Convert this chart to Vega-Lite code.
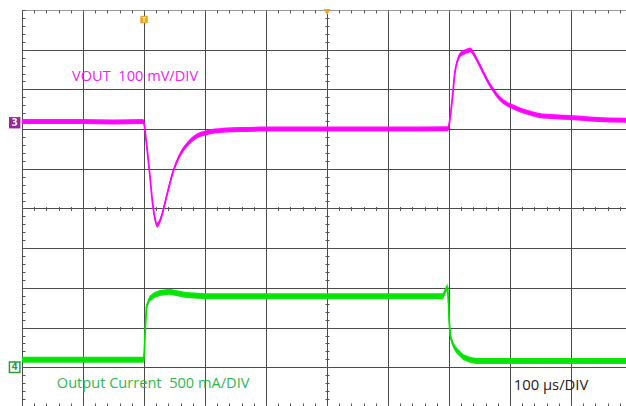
{
  "$schema": "https://vega.github.io/schema/vega-lite/v6.json",
  "width": 604,
  "height": 396,
  "autosize": {"type": "none"},
  "padding": {"left": 22, "top": 10, "right": 0, "bottom": 0},
  "background": "white",
  "config": {
    "view": {"stroke": null},
    "axis": {"labels": false, "title": null, "domain": false, "ticks": false, "grid": false, "tickColor": "#555", "gridColor": "#4a4a4a", "gridOpacity": 1, "tickWidth": 1, "gridWidth": 1}
  },
  "datasets": {
    "vout": [
      {"t": -500, "v": 2.19}, {"t": -400, "v": 2.19}, {"t": -350, "v": 2.18}, {"t": -302, "v": 2.19},
      {"t": -300.5, "v": 2.17}, {"t": -296, "v": 1.64}, {"t": -290.7, "v": 0.88}, {"t": -285.2, "v": 0.04},
      {"t": -281.6, "v": -0.29}, {"t": -278.7, "v": -0.42}, {"t": -275, "v": -0.35}, {"t": -271.5, "v": -0.21},
      {"t": -263.3, "v": 0.29}, {"t": -252.5, "v": 0.92}, {"t": -241.5, "v": 1.34}, {"t": -227.9, "v": 1.64},
      {"t": -214.1, "v": 1.82}, {"t": -197.7, "v": 1.91}, {"t": -170.5, "v": 1.97}, {"t": -143.1, "v": 1.99},
      {"t": -100, "v": 2.0}, {"t": 0, "v": 2.0}, {"t": 100, "v": 2.0}, {"t": 198.4, "v": 2.01},
      {"t": 201.1, "v": 2.22}, {"t": 205.6, "v": 2.81}, {"t": 209.3, "v": 3.4}, {"t": 213.1, "v": 3.69},
      {"t": 217.5, "v": 3.86}, {"t": 225.7, "v": 3.94}, {"t": 235.1, "v": 3.99}, {"t": 239.3, "v": 3.92},
      {"t": 247.5, "v": 3.69}, {"t": 255.7, "v": 3.44}, {"t": 263.9, "v": 3.19}, {"t": 272.1, "v": 2.99},
      {"t": 283.1, "v": 2.77}, {"t": 294.1, "v": 2.64}, {"t": 310.5, "v": 2.52}, {"t": 326.9, "v": 2.43},
      {"t": 345.9, "v": 2.35}, {"t": 374.9, "v": 2.31}, {"t": 397.9, "v": 2.29}, {"t": 436.1, "v": 2.25},
      {"t": 490, "v": 2.22}
    ],
    "current": [
      {"t": -500, "v": -3.81}, {"t": -400, "v": -3.81}, {"t": -300.5, "v": -3.81}, {"t": -299.5, "v": -3.6},
      {"t": -298, "v": -3.07}, {"t": -296, "v": -2.48}, {"t": -290.7, "v": -2.27}, {"t": -282.5, "v": -2.18},
      {"t": -274.3, "v": -2.13}, {"t": -257.9, "v": -2.1}, {"t": -241.5, "v": -2.15}, {"t": -230.5, "v": -2.18},
      {"t": -200, "v": -2.21}, {"t": 0, "v": -2.21}, {"t": 190, "v": -2.21}, {"t": 197.4, "v": -1.96},
      {"t": 199.5, "v": -2.48}, {"t": 200, "v": -2.81}, {"t": 202, "v": -3.19}, {"t": 204, "v": -3.32},
      {"t": 207.7, "v": -3.47}, {"t": 212.1, "v": -3.57}, {"t": 223, "v": -3.74}, {"t": 234, "v": -3.81},
      {"t": 244.9, "v": -3.84}, {"t": 490, "v": -3.84}
    ]
  },
  "resolve": {"axis": {"x": "independent", "y": "independent"}},
  "layer": [
    {
      "data": {"name": "vout"},
      "mark": {"type": "line", "color": "#ff00ff", "strokeWidth": 1.8, "interpolate": "monotone"},
      "encoding": {
        "x": {"field": "t", "type": "quantitative", "scale": {"domain": [-500, 490], "nice": false, "zero": false},
              "axis": {"grid": true, "values": [-500, -400, -300, -200, -100, 0, 100, 200, 300, 400]}},
        "y": {"field": "v", "type": "quantitative", "scale": {"domain": [-4.975, 5], "nice": false, "zero": false},
              "axis": {"grid": true, "values": [-4, -3, -2, -1, 0, 1, 2, 3, 4, 5],
                       "gridColor": {"condition": {"test": "datum.value === 5", "value": "#999"}, "value": "#4a4a4a"}}}
      }
    },
    {
      "data": {"name": "vout"},
      "mark": {"type": "area", "color": "#ff00ff", "yOffset": -2.5, "y2Offset": 2.5, "opacity": 0.95, "interpolate": "monotone"},
      "encoding": {
        "x": {"field": "t", "type": "quantitative",
              "axis": {"orient": "top", "offset": -3, "ticks": true, "tickSize": 3, "tickCount": 50}},
        "y": {"field": "v", "type": "quantitative",
              "axis": {"orient": "left", "offset": -3, "ticks": true, "tickSize": 3, "tickCount": 50}},
        "y2": {"field": "v"}
      }
    },
    {
      "data": {"name": "current"},
      "mark": {"type": "line", "color": "#00e400", "strokeWidth": 1.8},
      "encoding": {
        "x": {"field": "t", "type": "quantitative",
              "axis": {"orient": "bottom", "offset": -199.5, "ticks": true, "tickSize": 4, "tickCount": 50}},
        "y": {"field": "v", "type": "quantitative",
              "axis": {"orient": "left", "offset": -307, "ticks": true, "tickSize": 4, "tickCount": 50}}
      }
    },
    {
      "data": {"name": "current"},
      "mark": {"type": "area", "color": "#00e400", "yOffset": -3, "y2Offset": 3, "opacity": 0.95},
      "encoding": {
        "x": {"field": "t", "type": "quantitative",
              "axis": {"orient": "bottom", "offset": -3, "ticks": true, "tickSize": 4, "tickCount": 50}},
        "y": {"field": "v", "type": "quantitative", "axis": null},
        "y2": {"field": "v"}
      }
    },
    {
      "data": {"values": [{"t": -418, "v": 3.31, "label": "VOUT\u00a0 100 mV/DIV"}]},
      "mark": {"type": "text", "align": "left", "baseline": "middle", "font": "Open Sans", "fontSize": 14.6, "color": "#f020f0"},
      "encoding": {
        "x": {"field": "t", "type": "quantitative", "axis": null},
        "y": {"field": "v", "type": "quantitative", "axis": null},
        "text": {"field": "label"}
      }
    },
    {
      "data": {"values": [{"t": -443, "v": -4.43, "label": "Output Current\u00a0 500 mA/DIV"}]},
      "mark": {"type": "text", "align": "left", "baseline": "middle", "font": "Open Sans", "fontSize": 14.6, "color": "#2db84d"},
      "encoding": {
        "x": {"field": "t", "type": "quantitative", "axis": null},
        "y": {"field": "v", "type": "quantitative", "axis": null},
        "text": {"field": "label"}
      }
    },
    {
      "data": {"values": [{"t": 306, "v": -4.48, "label": "100 µs/DIV"}]},
      "mark": {"type": "text", "align": "left", "baseline": "middle", "font": "Open Sans", "fontSize": 14.8, "color": "#222222"},
      "encoding": {
        "x": {"field": "t", "type": "quantitative", "axis": null},
        "y": {"field": "v", "type": "quantitative", "axis": null},
        "text": {"field": "label"}
      }
    },
    {
      "data": {"values": [{"t": -512, "v": 2.16}]},
      "mark": {"type": "point", "shape": "square", "size": 130, "filled": true, "color": "#a0229f", "opacity": 1},
      "encoding": {
        "x": {"field": "t", "type": "quantitative", "axis": null},
        "y": {"field": "v", "type": "quantitative", "axis": null}
      }
    },
    {
      "data": {"values": [{"t": -512, "v": 2.16, "label": "3"}]},
      "mark": {"type": "text", "align": "center", "baseline": "middle", "font": "Open Sans", "fontSize": 10, "fontWeight": "bold", "color": "white"},
      "encoding": {
        "x": {"field": "t", "type": "quantitative", "axis": null},
        "y": {"field": "v", "type": "quantitative", "axis": null},
        "text": {"field": "label"}
      }
    },
    {
      "data": {"values": [{"t": -512, "v": -4.0}]},
      "mark": {"type": "point", "shape": "square", "size": 110, "filled": false, "stroke": "#2a9d3a", "strokeWidth": 1.5, "fill": "white", "opacity": 1},
      "encoding": {
        "x": {"field": "t", "type": "quantitative", "axis": null},
        "y": {"field": "v", "type": "quantitative", "axis": null}
      }
    },
    {
      "data": {"values": [{"t": -512, "v": -4.0, "label": "4"}]},
      "mark": {"type": "text", "align": "center", "baseline": "middle", "font": "Open Sans", "fontSize": 10, "fontWeight": "bold", "color": "#2a9d3a"},
      "encoding": {
        "x": {"field": "t", "type": "quantitative", "axis": null},
        "y": {"field": "v", "type": "quantitative", "axis": null},
        "text": {"field": "label"}
      }
    },
    {
      "data": {"values": [{"t": -300, "v": 4.76}]},
      "mark": {"type": "point", "shape": "square", "size": 55, "filled": true, "color": "#f5a020", "opacity": 1},
      "encoding": {
        "x": {"field": "t", "type": "quantitative", "axis": null},
        "y": {"field": "v", "type": "quantitative", "axis": null}
      }
    },
    {
      "data": {"values": [{"t": -300, "v": 4.76, "label": "T"}]},
      "mark": {"type": "text", "align": "center", "baseline": "middle", "font": "Open Sans", "fontSize": 7, "fontWeight": "bold", "color": "white"},
      "encoding": {
        "x": {"field": "t", "type": "quantitative", "axis": null},
        "y": {"field": "v", "type": "quantitative", "axis": null},
        "text": {"field": "label"}
      }
    },
    {
      "data": {"values": [{"t": 0, "v": 4.95}]},
      "mark": {"type": "point", "shape": "triangle-down", "size": 45, "filled": true, "color": "#f5a020", "opacity": 1},
      "encoding": {
        "x": {"field": "t", "type": "quantitative", "axis": null},
        "y": {"field": "v", "type": "quantitative", "axis": null}
      }
    }
  ]
}
